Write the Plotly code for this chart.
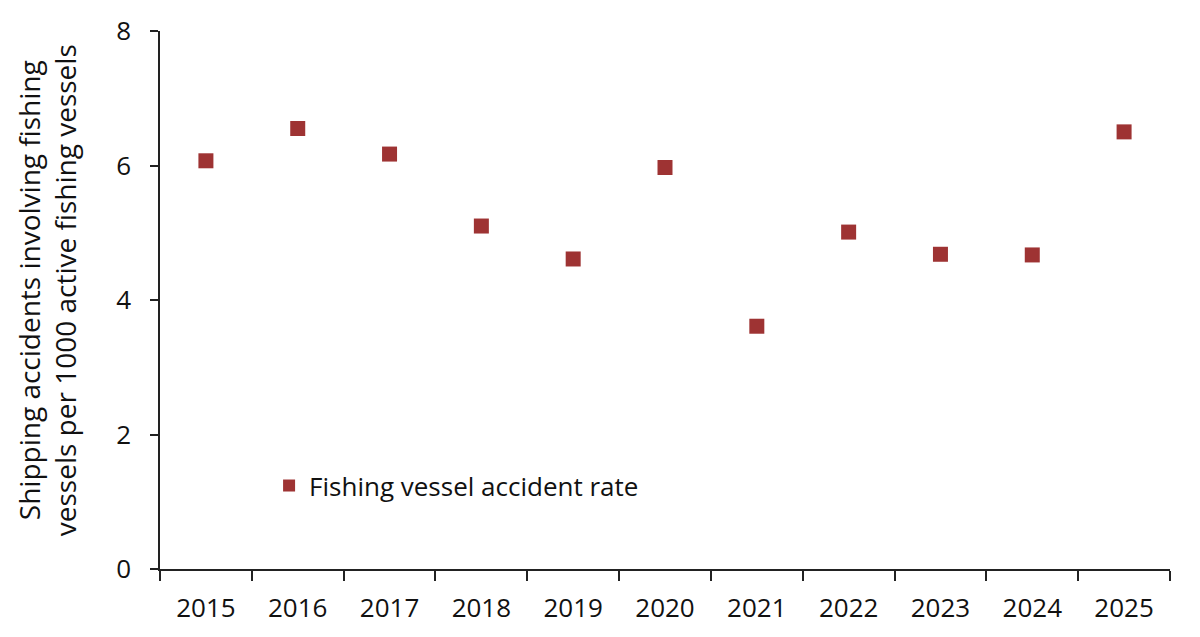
import plotly.graph_objects as go

years = ["2015", "2016", "2017", "2018", "2019", "2020", "2021", "2022", "2023", "2024", "2025"]
rates = [6.07, 6.55, 6.17, 5.10, 4.61, 5.97, 3.61, 5.01, 4.68, 4.67, 6.50]
series_name = "Fishing vessel accident rate"
y_title = "Shipping accidents involving fishing<br>vessels per 1000 active fishing vessels"

FONT = "Open Sans, Noto Sans, sans-serif"
color = "#9e3333"

fig = go.Figure()
fig.add_trace(go.Scatter(
    x=years, y=rates, mode="markers", name=series_name,
    marker=dict(symbol="square", size=15, color=color),
    showlegend=True,
))

fig.add_annotation(
    text=y_title, xref="paper", yref="paper", x=-0.112, y=0.518,
    xanchor="center", yanchor="middle", textangle=-90, showarrow=False,
    font=dict(size=28, family=FONT, color="#111111"),
)

fig.update_layout(
    width=1200, height=637,
    margin=dict(l=160, r=30, t=30, b=66),
    paper_bgcolor="white", plot_bgcolor="white",
    font=dict(family=FONT, size=26, color="#111111"),
    showlegend=True,
    legend=dict(x=0.108, y=0.155, xanchor="left", yanchor="middle",
                bgcolor="rgba(0,0,0,0)", font=dict(size=26),
                itemsizing="constant", itemwidth=30),
    xaxis=dict(
        type="category", range=[-0.5, 10.5],
        showline=True, linecolor="#222222", linewidth=1.5,
        ticks="outside", ticklen=10, tickcolor="#222222", tickwidth=1.5,
        tickson="boundaries", showgrid=False, zeroline=False,
        tickfont=dict(size=26), ticklabelstandoff=15,
    ),
    yaxis=dict(
        range=[0, 8], tickvals=[0, 2, 4, 6, 8],
        showline=True, linecolor="#222222", linewidth=1.5,
        ticks="outside", ticklen=8, tickcolor="#222222", tickwidth=1.5,
        showgrid=False, zeroline=False,
        tickfont=dict(size=26), ticklabelstandoff=14,
    ),
)

fig.write_html("out.html")
